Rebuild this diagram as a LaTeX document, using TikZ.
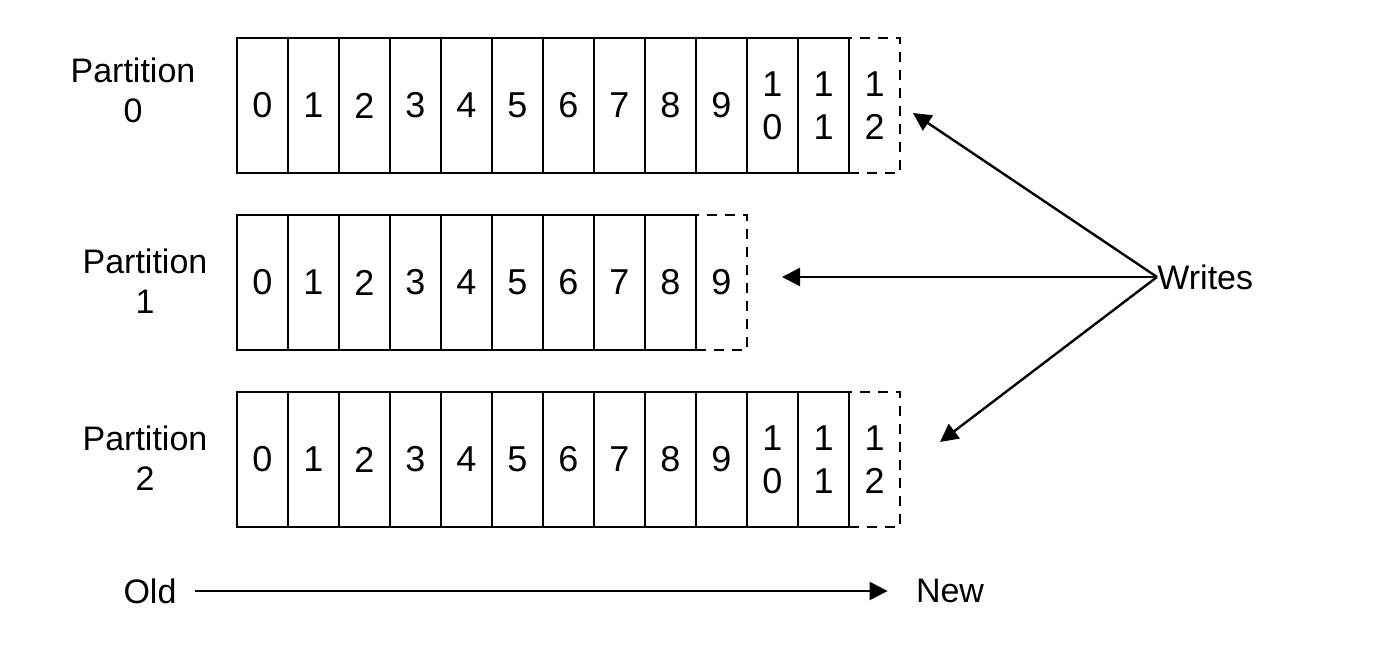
\documentclass[tikz,border=0pt]{standalone}
\usepackage{fontspec}
\setmainfont{Liberation Sans}
\usetikzlibrary{arrows.meta, positioning}

\begin{document}
\begin{tikzpicture}[
    x=0.5pt, y=-0.5pt,
    cell/.style={draw, line width=1.4pt, minimum width=25.5pt, minimum height=67.5pt,
                 inner sep=0pt, align=center, font=\fontsize{18}{21.5}\selectfont},
    newcell/.style={cell, dash pattern=on 5pt off 4pt},
    lbl/.style={align=center, inner sep=0pt, font=\fontsize{17}{20}\selectfont},
    >={Triangle[length=9pt, width=9pt]}
]
\useasboundingbox (0,0) rectangle (1386,646);

% partition 0
\node[lbl] (part0) at (133,90) {Partition\\0};
\foreach \i in {0,...,9}
    \node[cell] (p0c\i) at (262.5+51*\i,105.5) {\i};
\node[cell]    (p0c10) at (772.5,105.5) {1\\0};
\node[cell]    (p0c11) at (823.5,105.5) {1\\1};
\node[newcell] (p0c12) at (874.5,105.5) {1\\2};

% partition 1
\node[lbl] (part1) at (145,281) {Partition\\1};
\foreach \i in {0,...,8}
    \node[cell] (p1c\i) at (262.5+51*\i,282.5) {\i};
\node[newcell] (p1c9) at (721.5,282.5) {9};

% partition 2
\node[lbl] (part2) at (145,458) {Partition\\2};
\foreach \i in {0,...,9}
    \node[cell] (p2c\i) at (262.5+51*\i,459.5) {\i};
\node[cell]    (p2c10) at (772.5,459.5) {1\\0};
\node[cell]    (p2c11) at (823.5,459.5) {1\\1};
\node[newcell] (p2c12) at (874.5,459.5) {1\\2};

% writes
\node[lbl, anchor=west] (writes) at (1157,277) {Writes};
\coordinate (w0) at (913,113);
\coordinate (w1) at (782,277);
\coordinate (w2) at (940,442);
\draw[->, line width=1.2pt] (writes.west) -- (w0);
\draw[->, line width=1.2pt] (writes.west) -- (w1);
\draw[->, line width=1.2pt] (writes.west) -- (w2);

% old -> new
\node[lbl] (old) at (150,591) {Old};
\node[lbl] (new) at (950,591) {New};
\draw[->, line width=1.2pt, shorten <=9pt, shorten >=14pt] (old.east) -- (new.west);
\end{tikzpicture}
\end{document}
